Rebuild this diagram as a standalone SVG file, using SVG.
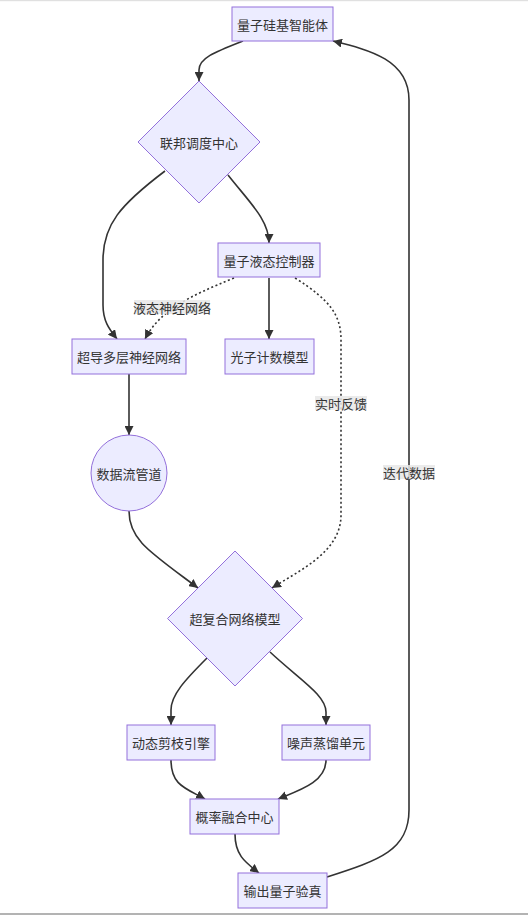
<svg xmlns="http://www.w3.org/2000/svg" width="528" height="915" viewBox="0 0 528 915">
<style>
.node rect,.node polygon,.node circle{fill:#ECECFF;stroke:#9370DB;stroke-width:1}
.node text,.lbl text{font-family:"Noto Sans CJK SC","Liberation Sans",sans-serif;font-size:13px;fill:#333;text-anchor:middle;dominant-baseline:central}
.edge{fill:none;stroke:#333;stroke-width:1.6}
.dot{stroke-dasharray:2 2.5}
.lbl rect{fill:#e8e8e8;fill-opacity:0.85;stroke:none}
</style>
<defs>
<marker id="arr" viewBox="0 0 10 10" refX="10" refY="5" markerWidth="9" markerHeight="9" markerUnits="userSpaceOnUse" orient="auto">
<path d="M0,0 L10,5 L0,10 z" fill="#333"/>
</marker>
</defs>
<rect x="0" y="0" width="528" height="1.2" fill="#e0e0e0"/>
<rect x="0" y="913" width="528" height="2" fill="#b3b3b3"/>
<g id="connectors">
<path class="edge" d="M243,41 C215,52 199,58 199,70 L199,81" marker-end="url(#arr)"/>
<path class="edge" d="M165,171 C120,205 103,225 103,260 L103,305 C103,322 110,330 117,339" marker-end="url(#arr)"/>
<path class="edge" d="M228,175 C250,203 269,220 269,243" marker-end="url(#arr)"/>
<path class="edge dot" d="M234,278 C190,296 160,310 145,339" marker-end="url(#arr)"/>
<path class="edge" d="M269,278 L269,339" marker-end="url(#arr)"/>
<path class="edge dot" d="M295,278 C330,300 341,315 341,340 L341,515 C341,552 300,570 272,588" marker-end="url(#arr)"/>
<path class="edge" d="M129,374 L129,435" marker-end="url(#arr)"/>
<path class="edge" d="M129,511 C129,540 150,552 198,588" marker-end="url(#arr)"/>
<path class="edge" d="M207,658 C185,680 171,695 171,710 L171,725" marker-end="url(#arr)"/>
<path class="edge" d="M270,652 C300,680 326,695 326,712 L326,725" marker-end="url(#arr)"/>
<path class="edge" d="M171,760 C171,785 185,788 205,799" marker-end="url(#arr)"/>
<path class="edge" d="M326,760 C326,782 300,790 278,799" marker-end="url(#arr)"/>
<path class="edge" d="M235,834 C235,855 245,862 259,873" marker-end="url(#arr)"/>
<path class="edge" d="M327,877 C380,860 409,850 409,810 L409,100 C409,60 370,50 333,41" marker-end="url(#arr)"/>
<g class="lbl"><rect x="134" y="300" width="76" height="14"/><text x="172" y="307">液态神经网络</text></g>
<g class="lbl"><rect x="315" y="396" width="52" height="14"/><text x="341" y="403">实时反馈</text></g>
<g class="lbl"><rect x="383" y="465" width="52" height="14"/><text x="409" y="472">迭代数据</text></g>
</g>
<g id="n1" class="node"><rect x="232" y="7" width="101" height="34"/><text x="282.5" y="24">量子硅基智能体</text></g>
<g id="n2" class="node"><polygon points="199,81 260,142 199,203 138,142"/><text x="199" y="142">联邦调度中心</text></g>
<g id="n3" class="node"><rect x="218" y="243" width="102" height="34"/><text x="269" y="260">量子液态控制器</text></g>
<g id="n4" class="node"><rect x="72" y="339" width="114" height="35"/><text x="129" y="356.5">超导多层神经网络</text></g>
<g id="n5" class="node"><rect x="225" y="339" width="89" height="35"/><text x="269.5" y="356.5">光子计数模型</text></g>
<g id="n6" class="node"><circle cx="129" cy="473" r="38"/><text x="129" y="473">数据流管道</text></g>
<g id="n7" class="node"><polygon points="235,551 302.5,618.5 235,686 167.5,618.5"/><text x="235" y="618.5">超复合网络模型</text></g>
<g id="n8" class="node"><rect x="127" y="725" width="88" height="35"/><text x="171" y="742.5">动态剪枝引擎</text></g>
<g id="n9" class="node"><rect x="282" y="725" width="88" height="35"/><text x="326" y="742.5">噪声蒸馏单元</text></g>
<g id="n10" class="node"><rect x="190" y="799" width="89" height="35"/><text x="234.5" y="816.5">概率融合中心</text></g>
<g id="n11" class="node"><rect x="238" y="873" width="89" height="35"/><text x="282.5" y="890.5">输出量子验真</text></g>
</svg>
